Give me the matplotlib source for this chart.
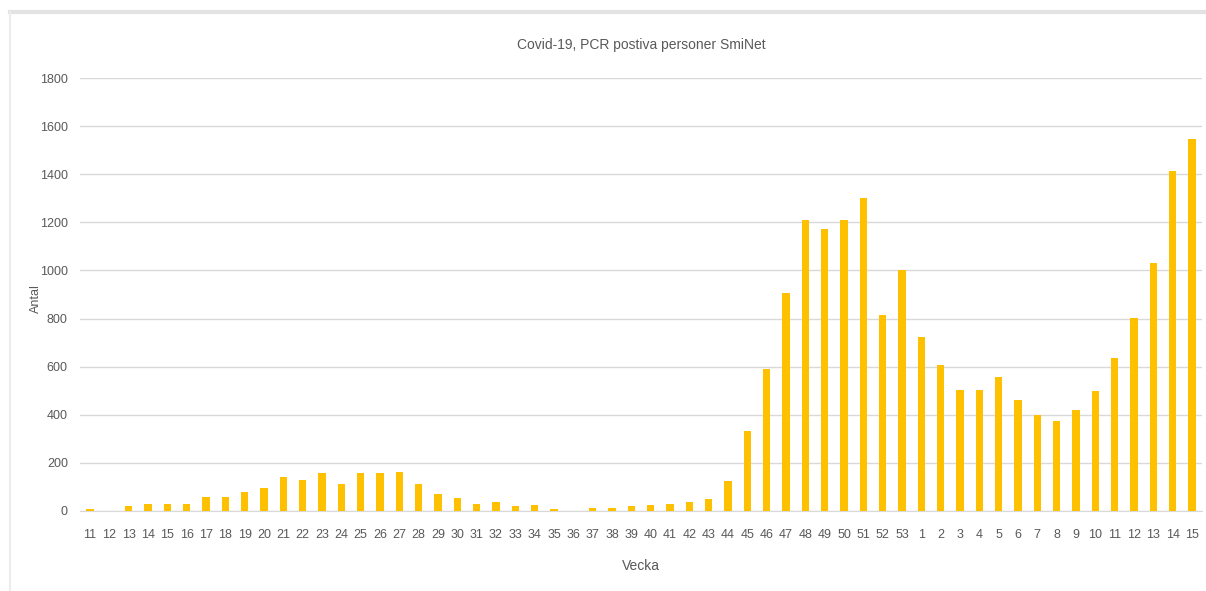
import numpy as np
import matplotlib.pyplot as plt
from matplotlib.lines import Line2D

# --- DATA ---
weeks = [str(w) for w in range(11, 54)] + [str(w) for w in range(1, 16)]
antal = [10, 0, 21, 31, 31, 31, 60, 60, 77, 94,
         143, 129, 156, 111, 156, 156, 163, 111, 69, 56,
         31, 39, 20, 25, 8, 0, 11, 11, 20, 24,
         31, 39, 50, 126, 332, 589, 906, 1209, 1174, 1209,
         1300, 813, 1002,
         723, 605, 503, 503, 557, 461, 400, 376, 418, 499,
         636, 801, 1032, 1415, 1547]

TITLE = 'Covid-19, PCR postiva personer SmiNet'
BAR_COLOR = '#FFC000'
GRID_COLOR = '#D9D9D9'
TEXT_COLOR = '#595959'

plt.rcParams['font.family'] = ['Liberation Sans', 'DejaVu Sans']

fig = plt.figure(figsize=(12.06, 5.91), dpi=100)
ax = fig.add_axes([0.0666, 0.1354, 0.9298, 0.7326])

x = np.arange(len(weeks))
ax.bar(x, antal, width=0.37, color=BAR_COLOR, zorder=3)

ax.set_xlim(-0.5, len(weeks) - 0.5)
ax.set_ylim(0, 1800)
ax.set_yticks(np.arange(0, 1801, 200))
ax.set_xticks(x)
ax.set_xticklabels(weeks)

ax.grid(axis='y', color=GRID_COLOR, linewidth=1, zorder=0)
for s in ['top', 'right', 'left']:
    ax.spines[s].set_visible(False)
ax.spines['bottom'].set_color(GRID_COLOR)
ax.tick_params(axis='both', length=0, colors=TEXT_COLOR, labelsize=9)
ax.tick_params(axis='x', pad=13)
ax.tick_params(axis='y', pad=9)

ax.set_title(TITLE, color=TEXT_COLOR, fontsize=10, pad=21)
ax.set_xlabel('Vecka', color=TEXT_COLOR, fontsize=10, labelpad=13)
ax.set_ylabel('Antal', color=TEXT_COLOR, fontsize=9)
ax.yaxis.set_label_coords(-0.034, 0.49)

# spreadsheet frame lines at top and left
fig.add_artist(Line2D([10 / 1206, 1], [1 - 12 / 591, 1 - 12 / 591],
                      transform=fig.transFigure, color='#E3E3E3', linewidth=3))
fig.add_artist(Line2D([10 / 1206, 10 / 1206], [0, 1 - 12 / 591],
                      transform=fig.transFigure, color='#ECECEC', linewidth=1.5))

fig.savefig('out.png', dpi=100)
